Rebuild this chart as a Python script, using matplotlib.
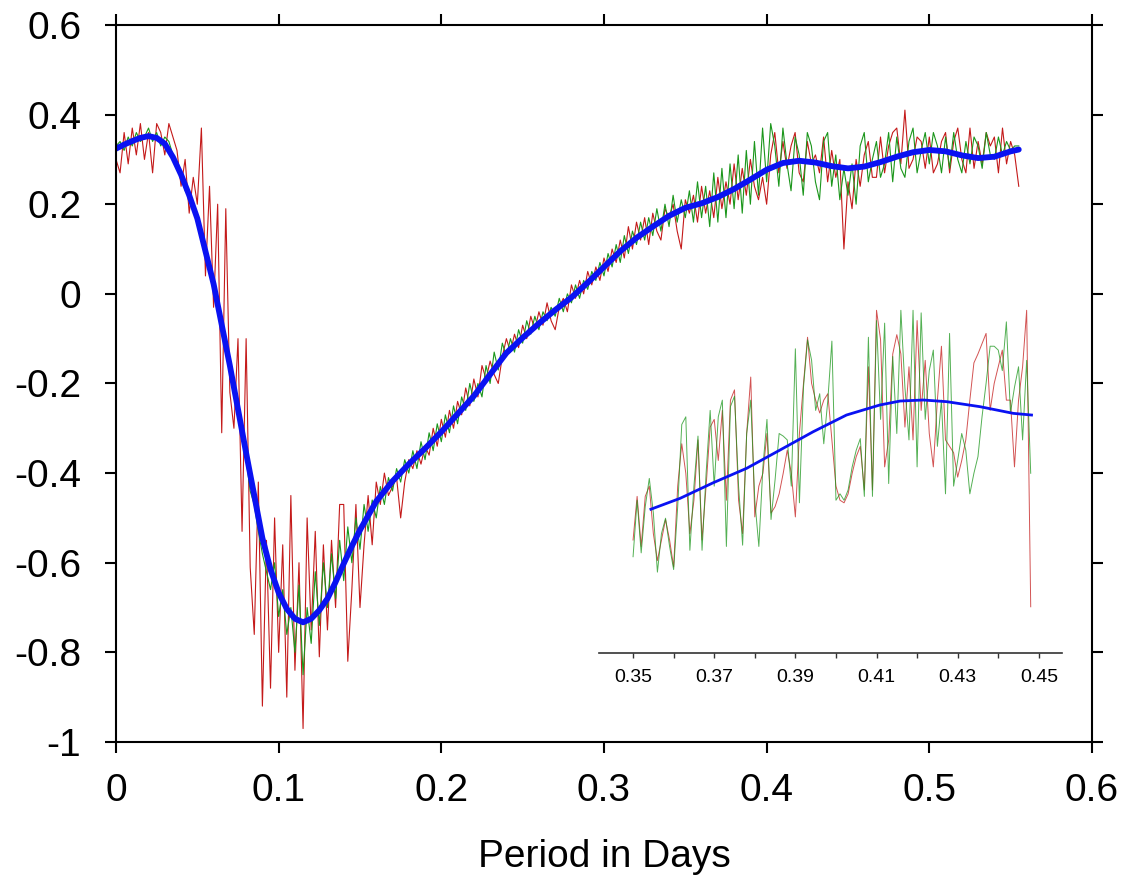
import matplotlib
matplotlib.use("Agg")
import matplotlib.pyplot as plt
import numpy as np

plt.rcParams["font.family"] = ["Liberation Sans", "DejaVu Sans"]

# main panel: two noisy estimates sampled every 0.0025 days, plus the smooth fit
STEP = 0.0025

X_TICKS = [0.0, 0.1, 0.2, 0.3, 0.4, 0.5, 0.6]
X_LABELS = ["0", "0.1", "0.2", "0.3", "0.4", "0.5", "0.6"]
Y_TICKS = [0.6, 0.4, 0.2, 0.0, -0.2, -0.4, -0.6, -0.8, -1.0]
Y_LABELS = ["0.6", "0.4", "0.2", "0", "-0.2", "-0.4", "-0.6", "-0.8", "-1"]

GREEN = [
    0.33, 0.34, 0.32, 0.35,
    0.33, 0.36, 0.34, 0.35,
    0.37, 0.34, 0.36, 0.33,
    0.35, 0.34, 0.31, 0.28,
    0.27, 0.23, 0.22, 0.19,
    0.17, 0.14, 0.10, 0.06,
    0.02, -0.03, -0.06, -0.12,
    -0.15, -0.21, -0.25, -0.31,
    -0.37, -0.44, -0.47, -0.53,
    -0.58, -0.62, -0.66, -0.60,
    -0.72, -0.66, -0.76, -0.70,
    -0.80, -0.65, -0.85, -0.70,
    -0.78, -0.62, -0.74, -0.60,
    -0.70, -0.58, -0.68, -0.55,
    -0.64, -0.52, -0.60, -0.50,
    -0.57, -0.47, -0.53, -0.46,
    -0.50, -0.43, -0.47, -0.41,
    -0.44, -0.39, -0.42, -0.37,
    -0.40, -0.35, -0.39, -0.33,
    -0.37, -0.31, -0.35, -0.29,
    -0.33, -0.27, -0.31, -0.25,
    -0.29, -0.23, -0.26, -0.20,
    -0.24, -0.20, -0.23, -0.16,
    -0.20, -0.13, -0.17, -0.11,
    -0.14, -0.10, -0.13, -0.08,
    -0.11, -0.06, -0.09, -0.05,
    -0.08, -0.04, -0.06, -0.03,
    -0.05, -0.01, -0.04, 0.00,
    -0.02, 0.02, -0.01, 0.03,
    0.01, 0.05, 0.03, 0.07,
    0.04, 0.09, 0.06, 0.11,
    0.07, 0.13, 0.09, 0.14,
    0.11, 0.16, 0.12, 0.17,
    0.13, 0.19, 0.14, 0.20,
    0.15, 0.22, 0.16, 0.21,
    0.17, 0.23, 0.16, 0.25,
    0.17, 0.24, 0.15, 0.27,
    0.16, 0.28, 0.17, 0.29,
    0.19, 0.31, 0.18, 0.32,
    0.20, 0.34, 0.22, 0.37,
    0.25, 0.38, 0.33, 0.24,
    0.37, 0.29, 0.23, 0.35,
    0.31, 0.22, 0.36, 0.33,
    0.25, 0.21, 0.34, 0.36,
    0.24, 0.31, 0.21, 0.28,
    0.22, 0.29, 0.20, 0.33,
    0.36, 0.25, 0.30, 0.34,
    0.26, 0.29, 0.36, 0.25,
    0.35, 0.28, 0.26, 0.34,
    0.37, 0.27, 0.32, 0.36,
    0.29, 0.36, 0.33, 0.27,
    0.35, 0.28, 0.36, 0.30,
    0.27, 0.34, 0.29, 0.35,
    0.33, 0.28, 0.36, 0.31,
    0.30, 0.35, 0.31, 0.34,
    0.32, 0.33, 0.33,
]

RED = [
    0.30, 0.27, 0.36, 0.29,
    0.37, 0.31, 0.38, 0.30,
    0.36, 0.27, 0.38, 0.36,
    0.31, 0.38, 0.35, 0.32,
    0.24, 0.30, 0.18, 0.26,
    0.20, 0.37, 0.04, 0.24,
    -0.03, 0.20, -0.31, 0.19,
    -0.22, -0.30, -0.10, -0.53,
    -0.10, -0.61, -0.76, -0.42,
    -0.92, -0.55, -0.88, -0.50,
    -0.80, -0.56, -0.90, -0.45,
    -0.84, -0.60, -0.97, -0.50,
    -0.75, -0.53, -0.81, -0.56,
    -0.75, -0.55, -0.70, -0.47,
    -0.47, -0.82, -0.66, -0.47,
    -0.70, -0.56, -0.45, -0.56,
    -0.42, -0.47, -0.40, -0.45,
    -0.43, -0.41, -0.50, -0.42,
    -0.37, -0.39, -0.35, -0.38,
    -0.34, -0.36, -0.30, -0.34,
    -0.28, -0.32, -0.26, -0.30,
    -0.24, -0.27, -0.21, -0.25,
    -0.19, -0.23, -0.16, -0.19,
    -0.15, -0.18, -0.20, -0.14,
    -0.10, -0.13, -0.09, -0.12,
    -0.07, -0.10, -0.05, -0.08,
    -0.04, -0.07, -0.02, -0.06,
    -0.08, -0.03, -0.01, -0.04,
    0.02, -0.01, 0.03, 0.00,
    0.05, 0.02, 0.06, 0.03,
    0.08, 0.05, 0.10, 0.07,
    0.12, 0.08, 0.15, 0.10,
    0.16, 0.12, 0.17, 0.11,
    0.18, 0.14, 0.12, 0.19,
    0.17, 0.20, 0.14, 0.10,
    0.21, 0.18, 0.22, 0.16,
    0.24, 0.18, 0.23, 0.17,
    0.26, 0.19, 0.25, 0.20,
    0.29, 0.21, 0.28, 0.22,
    0.30, 0.24, 0.21, 0.26,
    0.20, 0.31, 0.36, 0.27,
    0.34, 0.28, 0.33, 0.36,
    0.27, 0.25, 0.34, 0.29,
    0.31, 0.27, 0.35, 0.25,
    0.32, 0.26, 0.30, 0.10,
    0.25, 0.19, 0.30, 0.24,
    0.31, 0.34, 0.26, 0.26,
    0.35, 0.27, 0.33, 0.36,
    0.37, 0.29, 0.41, 0.28,
    0.30, 0.35, 0.34, 0.28,
    0.35, 0.27, 0.29, 0.34,
    0.36, 0.27, 0.34, 0.37,
    0.30, 0.27, 0.37, 0.28,
    0.34, 0.29, 0.36, 0.33,
    0.35, 0.27, 0.37, 0.29,
    0.34, 0.31, 0.24,
]

SMOOTH_X = [
    0.000, 0.005, 0.010, 0.015, 0.020, 0.025, 0.030, 0.035, 0.040, 0.045,
    0.050, 0.060, 0.070, 0.080, 0.090, 0.095, 0.100, 0.105, 0.110, 0.115,
    0.120, 0.125, 0.130, 0.135, 0.140, 0.145, 0.150, 0.160, 0.170, 0.180,
    0.190, 0.200, 0.210, 0.220, 0.230, 0.240, 0.250, 0.260, 0.270, 0.280,
    0.290, 0.300, 0.310, 0.320, 0.330, 0.340, 0.350, 0.360, 0.370, 0.380,
    0.390, 0.400, 0.410, 0.420, 0.430, 0.440, 0.450, 0.460, 0.470, 0.480,
    0.490, 0.500, 0.510, 0.520, 0.530, 0.540, 0.550, 0.555,
]
SMOOTH_Y = [
    0.324, 0.333, 0.341, 0.348, 0.352, 0.348, 0.335, 0.305, 0.266, 0.220,
    0.168, 0.022, -0.160, -0.355, -0.545, -0.615, -0.667, -0.703, -0.725, -0.733,
    -0.725, -0.706, -0.680, -0.643, -0.602, -0.563, -0.527, -0.463, -0.418, -0.380,
    -0.345, -0.308, -0.268, -0.228, -0.180, -0.132, -0.098, -0.066, -0.036, -0.008,
    0.025, 0.060, 0.095, 0.125, 0.150, 0.174, 0.192, 0.202, 0.216, 0.234,
    0.255, 0.277, 0.292, 0.297, 0.293, 0.285, 0.280, 0.284, 0.294, 0.306,
    0.316, 0.321, 0.318, 0.309, 0.303, 0.306, 0.318, 0.322,
]

# inset: closer look at 0.35-0.45, sampled every 0.001
INSET_START = 0.35
INSET_STEP = 0.001
INSET_GREEN = [
    0.175, 0.219, 0.178, 0.214, 0.236, 0.209, 0.163, 0.193, 0.205, 0.183,
    0.165, 0.214, 0.278, 0.284, 0.180, 0.230, 0.269, 0.180, 0.240, 0.289,
    0.230, 0.284, 0.297, 0.183, 0.292, 0.300, 0.230, 0.184, 0.271, 0.297,
    0.219, 0.183, 0.245, 0.282, 0.204, 0.235, 0.271, 0.269, 0.266, 0.230,
    0.337, 0.217, 0.307, 0.344, 0.328, 0.289, 0.302, 0.263, 0.297, 0.343,
    0.219, 0.224, 0.219, 0.227, 0.245, 0.258, 0.267, 0.222, 0.346, 0.222,
    0.359, 0.282, 0.357, 0.232, 0.331, 0.271, 0.367, 0.307, 0.266, 0.367,
    0.245, 0.365, 0.282, 0.320, 0.336, 0.261, 0.297, 0.224, 0.349, 0.230,
    0.250, 0.271, 0.258, 0.224, 0.240, 0.253, 0.284, 0.310, 0.339, 0.339,
    0.336, 0.320, 0.358, 0.287, 0.307, 0.323, 0.266, 0.328, 0.240,
]
INSET_RED = [
    0.188, 0.222, 0.183, 0.222, 0.230, 0.193, 0.172, 0.188, 0.204, 0.188,
    0.167, 0.230, 0.263, 0.240, 0.193, 0.219, 0.266, 0.188, 0.230, 0.276,
    0.282, 0.250, 0.289, 0.219, 0.297, 0.305, 0.219, 0.193, 0.271, 0.315,
    0.206, 0.230, 0.240, 0.271, 0.209, 0.214, 0.224, 0.240, 0.258, 0.240,
    0.206, 0.271, 0.310, 0.346, 0.310, 0.297, 0.287, 0.297, 0.302, 0.266,
    0.230, 0.219, 0.217, 0.224, 0.240, 0.253, 0.261, 0.227, 0.323, 0.227,
    0.367, 0.344, 0.245, 0.266, 0.333, 0.348, 0.333, 0.276, 0.323, 0.266,
    0.359, 0.289, 0.328, 0.271, 0.245, 0.297, 0.339, 0.266, 0.261, 0.256,
    0.237, 0.250, 0.266, 0.297, 0.326, 0.333, 0.341, 0.349, 0.289, 0.310,
    0.323, 0.336, 0.297, 0.297, 0.245, 0.297, 0.323, 0.367, 0.136,
]
INSET_SMOOTH_X = [0.3544, 0.3616, 0.3698, 0.3780, 0.3862, 0.3944, 0.4026,
                  0.4108, 0.4158, 0.4215, 0.4273, 0.4355, 0.4437, 0.4482]
INSET_SMOOTH_Y = [0.212, 0.2205, 0.2327, 0.2439, 0.2581, 0.2724, 0.2854,
                  0.2932, 0.2963, 0.2971, 0.2958, 0.2919, 0.2867, 0.2854]
INSET_TICKS = [0.35, 0.36, 0.37, 0.38, 0.39, 0.40, 0.41, 0.42, 0.43, 0.44, 0.45]
INSET_LABELS = ["0.35", "", "0.37", "", "0.39", "", "0.41", "", "0.43", "", "0.45"]

RED_C = "#c41a1a"
GREEN_C = "#1b961b"
BLUE_C = "#0a12f2"


def main() -> None:
    x = np.arange(len(GREEN)) * STEP
    assert len(RED) == len(GREEN)
    xi = INSET_START + np.arange(len(INSET_GREEN)) * INSET_STEP

    fig = plt.figure(figsize=(11.24, 8.76), dpi=100)
    ax = fig.add_axes([0.1032, 0.1530, 0.8683, 0.8185])
    ax.plot(x, RED, color=RED_C, lw=0.8)
    ax.plot(x, GREEN, color=GREEN_C, lw=0.8)
    ax.plot(SMOOTH_X, SMOOTH_Y, color=BLUE_C, lw=4.2,
            solid_joinstyle="round", solid_capstyle="round")
    ax.set_xlim(0, 0.6)
    ax.set_ylim(-1, 0.6)
    ax.set_xticks(X_TICKS, X_LABELS)
    ax.set_yticks(Y_TICKS, Y_LABELS)
    ax.tick_params(direction="out", length=8, width=1.5, labelsize=28,
                   top=True, right=True, labeltop=False, labelright=False)
    ax.tick_params(axis="x", pad=14)
    ax.tick_params(axis="y", pad=17)
    for s in ax.spines.values():
        s.set_linewidth(1.5)
    ax.set_xlabel("Period in Days", fontsize=28, labelpad=22)

    ins = fig.add_axes([0.5329, 0.2546, 0.4119, 0.4029])
    ins.patch.set_visible(False)
    for name in ["top", "left", "right"]:
        ins.spines[name].set_visible(False)
    ins.spines["bottom"].set_linewidth(1.2)
    ins.spines["bottom"].set_color("#333333")
    ins.plot(xi, INSET_RED, color=RED_C, lw=0.7, alpha=0.75)
    ins.plot(xi, INSET_GREEN, color=GREEN_C, lw=0.7, alpha=0.75)
    ins.plot(INSET_SMOOTH_X, INSET_SMOOTH_Y, color=BLUE_C, lw=2.0)
    ins.set_xlim(0.3416, 0.4557)
    ins.set_ylim(0.10, 0.375)
    ins.set_yticks([])
    ins.set_xticks(INSET_TICKS, INSET_LABELS)
    ins.tick_params(axis="x", direction="out", length=3.5, width=1,
                    labelsize=14, pad=8, color="#333333")

    fig.savefig("out.png", dpi=100)


if __name__ == "__main__":
    main()
